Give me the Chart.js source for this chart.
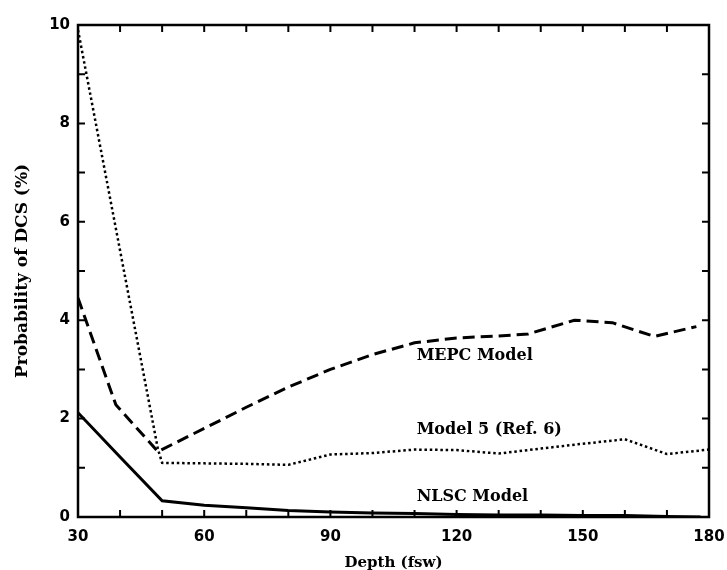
<!DOCTYPE html>
<html>
<head>
<meta charset="utf-8">
<script src="https://cdn.jsdelivr.net/npm/chart.js@4.4.1/dist/chart.umd.min.js"></script>
<style>
  html, body { margin: 0; padding: 0; background: #fff; overflow: hidden; }
  #wrap { width: 727px; height: 570px; position: relative; }
  canvas { display: block; }
</style>
</head>
<body>
<div id="wrap"><canvas id="dcsChart"></canvas></div>
<script>
// Depth (fsw) / probability of DCS (%)
const mepcDepth = [30, 39, 49, 60, 70, 80, 90, 100, 110, 120, 130, 137, 148, 157, 167, 177];
const mepcProb  = [4.45, 2.28, 1.33, 1.8, 2.23, 2.64, 3.0, 3.3, 3.54, 3.64, 3.68, 3.72, 4.0, 3.95, 3.67, 3.87];

const model5Depth = [30, 49, 50, 60, 70, 80, 90, 100, 110, 120, 130, 140, 148, 160, 170, 180];
const model5Prob  = [9.9, 1.38, 1.1, 1.09, 1.08, 1.06, 1.27, 1.3, 1.37, 1.36, 1.29, 1.39, 1.47, 1.58, 1.28, 1.37];

const nlscDepth = [30, 40, 50, 60, 70, 80, 90, 100, 110, 120, 130, 140, 150, 160, 170, 178];
const nlscProb  = [2.12, 1.22, 0.33, 0.24, 0.19, 0.13, 0.1, 0.08, 0.07, 0.05, 0.04, 0.04, 0.03, 0.03, 0.01, 0.0];

const xTicks = [30, 40, 50, 60, 70, 80, 90, 100, 110, 120, 130, 140, 150, 160, 170, 180];
const yTicks = [0, 1, 2, 3, 4, 5, 6, 7, 8, 9, 10];

// curve labels, placed in data units
const curveLabels = ['MEPC Model', 'Model 5 (Ref. 6)', 'NLSC Model'];
const labelDepth = [110.5, 110.5, 110.5];
const labelProb  = [3.28, 1.77, 0.4];

const toPoints = (xs, ys) => xs.map((x, i) => ({ x, y: ys[i] }));

const serif = "'DejaVu Serif', 'Liberation Serif', serif";
const sans = "'DejaVu Sans', 'Liberation Sans', sans-serif";

// frame + inward tick marks on all four sides
const frameTicks = {
  id: 'frameTicks',
  afterDatasetsDraw(chart) {
    const { ctx, chartArea: a, scales } = chart;
    const len = 7;
    ctx.save();
    ctx.strokeStyle = '#000';
    ctx.lineWidth = 2.5;
    ctx.strokeRect(a.left, a.top, a.right - a.left, a.bottom - a.top);
    ctx.lineWidth = 2;
    ctx.beginPath();
    xTicks.forEach(v => {
      const px = scales.x.getPixelForValue(v);
      ctx.moveTo(px, a.bottom); ctx.lineTo(px, a.bottom - len);
      ctx.moveTo(px, a.top); ctx.lineTo(px, a.top + len);
    });
    yTicks.forEach(v => {
      const py = scales.y.getPixelForValue(v);
      ctx.moveTo(a.left, py); ctx.lineTo(a.left + len, py);
      ctx.moveTo(a.right, py); ctx.lineTo(a.right - len, py);
    });
    ctx.stroke();
    ctx.restore();
  }
};

const curveText = {
  id: 'curveText',
  afterDatasetsDraw(chart) {
    const { ctx, scales } = chart;
    ctx.save();
    ctx.fillStyle = '#000';
    ctx.font = 'bold 16px ' + serif;
    ctx.textAlign = 'left';
    ctx.textBaseline = 'middle';
    curveLabels.forEach((t, i) => {
      ctx.fillText(t, scales.x.getPixelForValue(labelDepth[i]), scales.y.getPixelForValue(labelProb[i]));
    });
    ctx.restore();
  }
};

new Chart(document.getElementById('dcsChart'), {
  type: 'line',
  data: {
    datasets: [
      {
        label: 'MEPC Model',
        data: toPoints(mepcDepth, mepcProb),
        borderColor: '#000',
        borderWidth: 3,
        borderDash: [12, 6],
        pointRadius: 0,
        tension: 0
      },
      {
        label: 'Model 5 (Ref. 6)',
        data: toPoints(model5Depth, model5Prob),
        borderColor: '#000',
        borderWidth: 2.5,
        borderDash: [2.5, 2.8],
        pointRadius: 0,
        tension: 0
      },
      {
        label: 'NLSC Model',
        data: toPoints(nlscDepth, nlscProb),
        borderColor: '#000',
        borderWidth: 3,
        pointRadius: 0,
        tension: 0
      }
    ]
  },
  options: {
    responsive: true,
    maintainAspectRatio: false,
    animation: false,
    layout: { padding: { top: 25, right: 18, left: 0, bottom: 0 } },
    plugins: {
      legend: { display: false },
      tooltip: { enabled: false }
    },
    scales: {
      x: {
        type: 'linear',
        min: 30,
        max: 180,
        afterFit(scale) {
          scale.height = 53;
          scale.paddingLeft = 0;
          scale.paddingRight = 0;
        },
        grid: { display: false, drawTicks: false },
        border: { display: false },
        afterBuildTicks(scale) { scale.ticks = xTicks.map(v => ({ value: v })); },
        ticks: {
          color: '#000',
          padding: 11,
          autoSkip: false,
          maxRotation: 0,
          font: { family: sans, size: 15, weight: 'bold' },
          callback: v => (v % 30 === 0 ? String(v) : '')
        },
        title: {
          display: true,
          text: 'Depth (fsw)',
          color: '#000',
          padding: { top: 2, bottom: -2 },
          font: { family: serif, size: 15, weight: 'bold' }
        }
      },
      y: {
        min: 0,
        max: 10,
        afterFit(scale) { scale.width = 78; },
        grid: { display: false, drawTicks: false },
        border: { display: false },
        afterBuildTicks(scale) { scale.ticks = yTicks.map(v => ({ value: v })); },
        ticks: {
          color: '#000',
          padding: 8,
          autoSkip: false,
          font: { family: sans, size: 15, weight: 'bold' },
          callback: v => (v % 2 === 0 ? String(v) : '')
        },
        title: {
          display: true,
          text: 'Probability of DCS (%)',
          color: '#000',
          padding: { top: 12, bottom: 0 },
          font: { family: serif, size: 17, weight: 'bold' }
        }
      }
    }
  },
  plugins: [frameTicks, curveText]
});
</script>
</body>
</html>
